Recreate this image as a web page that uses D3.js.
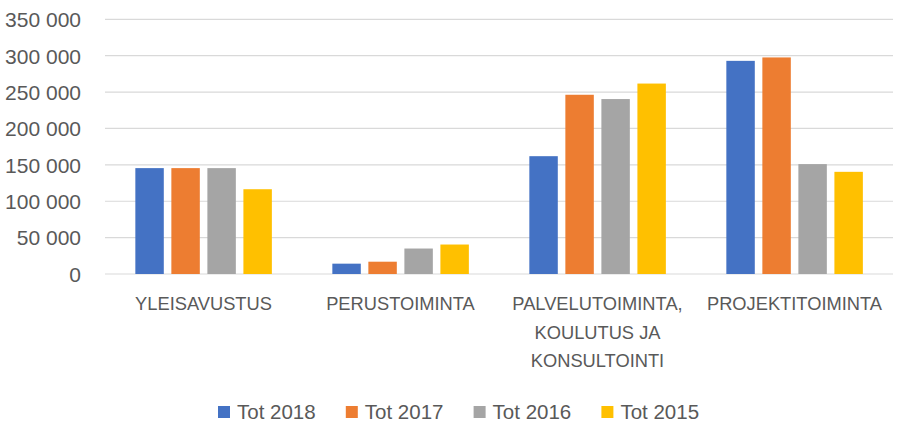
<!DOCTYPE html>
<html lang="en">
<head>
  <meta charset="UTF-8">
  <title>Tot 2015-2018</title>
  <style>
    body {
      margin: 0;
      background: #fff;
    }
    text {
      font-family: "Liberation Sans", Arial, sans-serif;
      fill: #595959;
    }
    .grid line {
      stroke: #d9d9d9;
      stroke-width: 1.2px;
    }
    .axis path, .axis line {
      display: none;
    }
  </style>
</head>
<body>
  <script src="https://d3js.org/d3.v7.min.js"></script>
  <script type="text/javascript">
const categories = ['YLEISAVUSTUS', 'PERUSTOIMINTA', 'PALVELUTOIMINTA, KOULUTUS JA KONSULTOINTI', 'PROJEKTITOIMINTA']
const categoryLines = [['YLEISAVUSTUS'], ['PERUSTOIMINTA'], ['PALVELUTOIMINTA,', 'KOULUTUS JA', 'KONSULTOINTI'], ['PROJEKTITOIMINTA']]
const series = ['Tot 2018', 'Tot 2017', 'Tot 2016', 'Tot 2015']
const tot2018 = [145500, 14200, 161900, 292900]
const tot2017 = [145500, 16900, 246300, 297600]
const tot2016 = [145500, 35000, 240400, 151000]
const tot2015 = [116500, 40500, 261700, 140400]
const yTicks = [0, 50000, 100000, 150000, 200000, 250000, 300000, 350000]
const colors = ['#4472C4', '#ED7D31', '#A5A5A5', '#FFC000']

const values = [tot2018, tot2017, tot2016, tot2015]
const rows = categories.map((c, i) => ({
  category: c,
  values: series.map((s, j) => ({ series: s, value: values[j][i] }))
}))

const width = 897
const height = 422
const plot = { left: 105, right: 893, top: 19.3, bottom: 274 }

const fi = d3.formatLocale({ decimal: ',', thousands: '\u00a0', grouping: [3], currency: ['', ''] })
const fmt = fi.format(',d')

var svg = d3.select('body').append('svg')
  .attr('width', width)
  .attr('height', height)

var x0 = d3.scaleBand()
  .domain(categories)
  .range([plot.left, plot.right])

const bw = x0.bandwidth()
var x1 = d3.scaleBand()
  .domain(series)
  .range([bw * 0.154, bw * 0.847])
  .paddingInner(0.21)

var y = d3.scaleLinear()
  .domain([0, 350000])
  .range([plot.bottom, plot.top])

svg.append('g')
  .attr('class', 'grid')
  .selectAll('line')
  .data(yTicks)
  .enter().append('line')
  .attr('x1', plot.left)
  .attr('x2', plot.right)
  .attr('y1', d => y(d))
  .attr('y2', d => y(d))

svg.append('g')
  .attr('class', 'axis axis--y')
  .attr('transform', 'translate(' + (plot.left - 24) + ',0)')
  .call(d3.axisLeft(y).tickValues(yTicks).tickFormat(fmt).tickSize(0).tickPadding(0))
  .call(g => g.selectAll('text')
    .style('font-size', '21px')
    .attr('fill', '#595959')
    .attr('dy', '0.35em'))

svg.append('g')
  .selectAll('g')
  .data(rows)
  .enter().append('g')
  .attr('transform', d => 'translate(' + x0(d.category) + ',0)')
  .selectAll('rect')
  .data(d => d.values)
  .enter().append('rect')
  .attr('x', d => x1(d.series))
  .attr('width', x1.bandwidth())
  .attr('y', d => y(d.value))
  .attr('height', d => y(0) - y(d.value))
  .attr('fill', (d, i) => colors[i])

svg.append('g')
  .attr('class', 'axis axis--x')
  .attr('transform', 'translate(0,' + plot.bottom + ')')
  .call(d3.axisBottom(x0).tickSize(0).tickFormat(''))

var catLabels = svg.append('g')
  .selectAll('text')
  .data(categories)
  .enter().append('text')
  .attr('text-anchor', 'middle')
  .attr('x', d => x0(d) + bw / 2)
  .attr('y', 310)
  .style('font-size', '18.3px')

catLabels.selectAll('tspan')
  .data((d, i) => categoryLines[i])
  .enter().append('tspan')
  .attr('x', function () { return this.parentNode.getAttribute('x') })
  .attr('dy', (d, i) => i === 0 ? 0 : 28.5)
  .text(d => d)

var legend = svg.append('g')
  .selectAll('g')
  .data(series)
  .enter().append('g')
  .attr('transform', (d, i) => 'translate(' + (218 + i * 127.8) + ',406)')

legend.append('rect')
  .attr('width', 12)
  .attr('height', 12)
  .attr('fill', (d, i) => colors[i])

legend.append('text')
  .attr('x', 19)
  .attr('y', 6)
  .attr('dy', '0.35em')
  .style('font-size', '20.5px')
  .text(d => d)
  </script>
</body>
</html>
